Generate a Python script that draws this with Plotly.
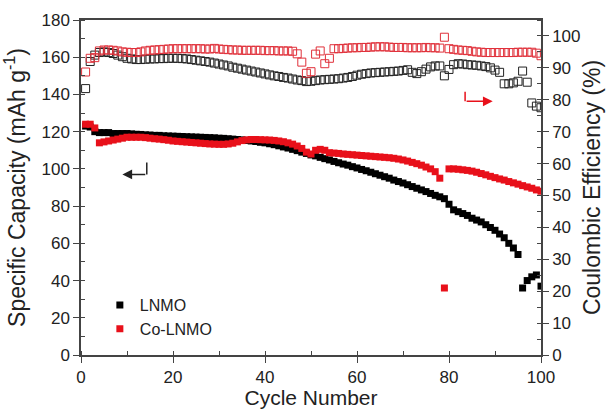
import plotly.graph_objects as go

cycles = list(range(1, 101))

lnmo_capacity = [
    123, 122.5, 120, 119.5, 119.5, 119.5, 119, 119, 119, 119,
    118.8, 118.6, 118.5, 118.3, 118.2, 118, 118, 117.8, 117.7, 117.6,
    117.5, 117.4, 117.3, 117.2, 117.1, 117, 116.9, 116.8, 116.7, 116.5,
    116.4, 116.2, 116, 115.8, 115.6, 115.3, 115, 114.7, 114.3, 114,
    113.5, 113, 112.4, 111.8, 111.2, 110.5, 109.8, 109, 108.3, 107.5,
    107, 106.2, 105.5, 104.8, 104, 103.3, 102.6, 102, 101.2, 100.5,
    99.7, 99, 98.2, 97.4, 96.6, 95.8, 95, 94, 93.2, 92.4,
    91.5, 90.5, 89.6, 88.7, 87.8, 86.8, 85.8, 85, 84, 81,
    78, 77, 76, 75, 73.5, 72.5, 71.5, 70, 68.5, 67,
    65, 63, 60, 57.5, 54, 36, 40, 42, 43, 37,
]

colnmo_capacity = [
    124, 124, 122, 114, 114.5, 115, 115.5, 116, 116.5, 117,
    117, 117, 117, 116.8, 116.5, 116.2, 116, 115.7, 115.4, 115,
    114.8, 114.6, 114.4, 114.2, 114, 113.8, 113.6, 113.4, 113.3, 113.2,
    113.2, 113.4, 113.8, 114.5, 115.2, 115.6, 115.8, 115.8, 115.7, 115.6,
    115.5, 115.3, 115, 114.6, 114, 113.3, 112.3, 111, 109, 108,
    110, 110.5, 110, 108.7, 108.5, 108.3, 108, 107.8, 107.6, 107.4,
    107.2, 107, 106.8, 106.6, 106.4, 106.2, 106, 105.7, 105.3, 104.8,
    104.2, 103.5, 102.8, 102, 101, 100, 98.5, 95, 36, 100,
    100, 99.8, 99.5, 99.2, 98.8, 98.2, 97.5, 96.8, 96, 95.3,
    94.6, 94, 93.2, 92.5, 91.8, 91, 90.3, 89.6, 88.7, 88,
]

lnmo_ce = [
    83.5, 92, 94, 94.8, 95, 94.8, 94.5, 94, 93.5, 93,
    92.8, 92.6, 92.6, 92.7, 92.8, 92.8, 92.9, 92.9, 93, 93,
    93, 92.9, 92.8, 92.6, 92.4, 92.2, 92, 91.8, 91.5, 91.2,
    90.9, 90.6, 90.2, 89.9, 89.6, 89.3, 89, 88.7, 88.4, 88.1,
    87.8, 87.5, 87.3, 87, 86.8, 86.5, 86.2, 86, 85.7, 85.8,
    86, 86.2, 86.3, 86.4, 86.5, 86.6, 86.8, 87, 87.3, 87.7,
    88, 88.2, 88.4, 88.5, 88.6, 88.7, 88.8, 88.9, 89, 89.2,
    89.4, 88.6, 88.2, 88.8, 89.6, 90.3, 90.6, 90.6, 87.5, 89.5,
    91, 91.3, 91.2, 91, 90.9, 90.8, 90.6, 90.4, 90, 89.3,
    88.6, 85, 85, 85.3, 85.8, 89, 85.5, 79, 78, 77.5,
]

colnmo_ce = [
    88.7, 93, 93.2, 95.3, 95.6, 95.6, 95.5, 95.3, 95, 94.9,
    94.8, 94.8, 95, 95.3, 95.5, 95.6, 95.7, 95.8, 95.9, 96,
    96, 96, 96, 96, 96, 96, 95.9, 95.9, 96.1, 95.9,
    95.8, 95.7, 95.6, 95.6, 95.5, 95.5, 95.5, 95.5, 95.5, 95.4,
    95.4, 95.4, 95.3, 95.3, 95.3, 95.2, 94.4, 91.8, 88.3, 88.8,
    94.3, 95.3, 91.3, 93, 96, 96, 96.1, 96.2, 96.3, 96.3,
    96.4, 96.4, 96.5, 96.6, 96.6, 96.6, 96.5, 96.4, 96.4, 96.4,
    96.3, 96.3, 96.3, 96.3, 96.4, 96.3, 96.3, 96.2, 99.6, 96,
    95.8, 95.6, 95.5, 95.4, 95.2, 95, 94.9, 94.8, 94.8, 94.8,
    94.8, 94.8, 94.8, 94.8, 94.9, 94.9, 94.9, 94.9, 94.6, 93.8,
]

x_ticks = [0, 20, 40, 60, 80, 100]
cap_ticks = list(range(0, 181, 20))
ce_ticks = list(range(0, 101, 10))

BLACK = "#000000"
RED = "#e8101a"
FONT = "Liberation Sans, Arial, sans-serif"
AXC = "#444444"

fig = go.Figure()

fig.add_trace(go.Scatter(x=cycles, y=lnmo_ce, mode="markers", yaxis="y2", showlegend=False,
                         marker=dict(symbol="square-open", size=8, color="#222222", line=dict(width=1))))
fig.add_trace(go.Scatter(x=cycles, y=colnmo_ce, mode="markers", yaxis="y2", showlegend=False,
                         marker=dict(symbol="square-open", size=8, color="#e0303a", line=dict(width=1))))
fig.add_trace(go.Scatter(x=cycles, y=lnmo_capacity, mode="markers", name="LNMO",
                         marker=dict(symbol="square", size=7, color=BLACK, line=dict(width=0))))
fig.add_trace(go.Scatter(x=cycles, y=colnmo_capacity, mode="markers", name="Co-LNMO",
                         marker=dict(symbol="square", size=7, color=RED, line=dict(width=0))))

# black arrow (pointing left, to capacity axis)
fig.add_shape(type="line", xref="x", yref="y", x0=14.3, x1=14.3, y0=103.5, y1=97,
              line=dict(color="#222222", width=1.5))
fig.add_annotation(x=9.0, y=97, ax=14.3, ay=97, xref="x", yref="y", axref="x", ayref="y",
                   showarrow=True, arrowhead=2, arrowsize=1.3, arrowwidth=1.5, arrowcolor="#222222", text="")
# red arrow (pointing right, to CE axis)
fig.add_shape(type="line", xref="x", yref="y2", x0=83.5, x1=83.5, y0=82.5, y1=79.5,
              line=dict(color=RED, width=1.5))
fig.add_annotation(x=89.5, y=79.5, ax=83.5, ay=79.5, xref="x", yref="y2", axref="x", ayref="y2",
                   showarrow=True, arrowhead=2, arrowsize=1.3, arrowwidth=1.5, arrowcolor=RED, text="")

fig.update_layout(
    width=606, height=409,
    margin=dict(l=81, r=65, t=20, b=54),
    paper_bgcolor="white", plot_bgcolor="white",
    font=dict(family=FONT, size=17, color="#222222"),
    showlegend=True,
    legend=dict(x=0.041, y=0.2, xanchor="left", yanchor="top", bgcolor="rgba(0,0,0,0)",
                font=dict(size=16), tracegroupgap=0, itemsizing="trace"),
    xaxis=dict(range=[0, 100], tickvals=x_ticks, showgrid=False, zeroline=False, automargin=False,
               showline=True, linecolor=AXC, linewidth=1.5, mirror=True,
               ticks="outside", ticklen=6, tickcolor=AXC,
               minor=dict(dtick=10, ticks="inside", ticklen=4, tickcolor=AXC),
               title=dict(text="Cycle Number", font=dict(size=21), standoff=4)),
    yaxis=dict(range=[0, 180], tickvals=cap_ticks, showgrid=False, zeroline=False, automargin=False,
               showline=True, linecolor=AXC, linewidth=1.5,
               ticks="outside", ticklen=6, tickcolor=AXC,
               minor=dict(dtick=10, ticks="inside", ticklen=4, tickcolor=AXC),
               title=dict(text="Specific Capacity (mAh g<sup>-1</sup>)", font=dict(size=23), standoff=10)),
    yaxis2=dict(range=[0, 105], tickvals=ce_ticks, overlaying="y", side="right", automargin=False,
                showgrid=False, zeroline=False,
                showline=True, linecolor=AXC, linewidth=1.5,
                ticks="outside", ticklen=6, tickcolor=AXC,
                minor=dict(dtick=5, ticks="inside", ticklen=4, tickcolor=AXC),
                title=dict(text="Coulombic Efficiency (%)", font=dict(size=23), standoff=4)),
)

fig.write_html("out.html", config={"displayModeBar": False},
               post_script="document.body.style.margin='0';")
